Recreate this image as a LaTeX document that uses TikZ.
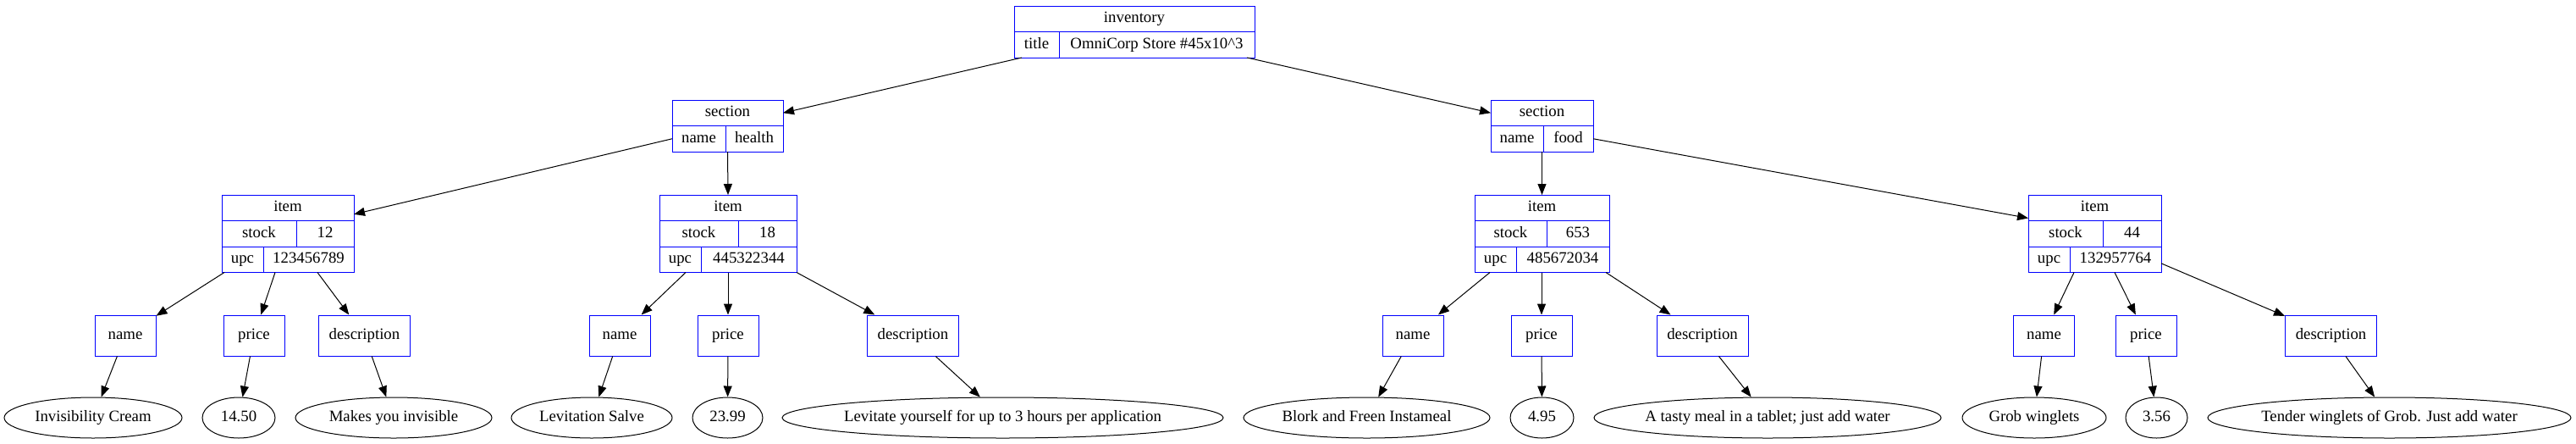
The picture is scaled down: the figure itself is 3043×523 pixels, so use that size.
\documentclass[tikz,border=0pt]{standalone}
\usepackage{fontspec}
\setmainfont{Liberation Serif}
\usetikzlibrary{arrows.meta,positioning,calc,shapes.geometric}
\newcommand{\recfont}{\fontsize{18.8pt}{22pt}\selectfont}

\begin{document}
\begin{tikzpicture}[
  x=1pt,y=-1pt,
  cell/.style={rectangle,draw=blue,line width=1pt,inner sep=0pt,outer sep=0pt,minimum height=30.5pt,text height=13pt,text depth=4pt,font=\recfont},
  fieldbox/.style={rectangle,draw=blue,line width=1pt,inner sep=0pt,minimum width=72pt,minimum height=48pt,text height=13pt,text depth=4pt,font=\recfont},
  leaf/.style={ellipse,draw=black,line width=1pt,inner xsep=-60pt,inner ysep=0pt,minimum height=48pt,text height=13pt,text depth=4pt,font=\recfont},
  link/.style={-{Triangle[length=13pt,width=10pt]},line width=1pt}
]
\useasboundingbox (0,0) rectangle (3043,523);

\node[cell,minimum width=284pt,anchor=north west] (inv) at (1198,7) {inventory};
\node[cell,minimum width=53pt,below right=0pt of inv.south west] (invt) {title};
\node[cell,minimum width=231pt,right=0pt of invt] (invv) {OmniCorp Store \#45x10\textasciicircum 3};

\node[cell,minimum width=131pt,anchor=north west] (sech) at (794,118) {section};
\node[cell,minimum width=63pt,below right=0pt of sech.south west] (shn) {name};
\node[cell,minimum width=68pt,right=0pt of shn] (shv) {health};

\node[cell,minimum width=121pt,anchor=north west] (secf) at (1761,118) {section};
\node[cell,minimum width=62pt,below right=0pt of secf.south west] (sfn) {name};
\node[cell,minimum width=59pt,right=0pt of sfn] (sfv) {food};

\node[cell,minimum width=156pt,anchor=north west] (i1) at (262,230) {item};
\node[cell,minimum width=88pt,below right=0pt of i1.south west] (i1s) {stock};
\node[cell,minimum width=68pt,right=0pt of i1s] (i1k) {12};
\node[cell,minimum width=49pt,below right=0pt of i1s.south west] (i1u) {upc};
\node[cell,minimum width=107pt,right=0pt of i1u] (i1v) {123456789};

\node[cell,minimum width=162pt,anchor=north west] (i2) at (779,230) {item};
\node[cell,minimum width=93pt,below right=0pt of i2.south west] (i2s) {stock};
\node[cell,minimum width=69pt,right=0pt of i2s] (i2k) {18};
\node[cell,minimum width=49pt,below right=0pt of i2s.south west] (i2u) {upc};
\node[cell,minimum width=113pt,right=0pt of i2u] (i2v) {445322344};

\node[cell,minimum width=159pt,anchor=north west] (i3) at (1742,230) {item};
\node[cell,minimum width=85pt,below right=0pt of i3.south west] (i3s) {stock};
\node[cell,minimum width=74pt,right=0pt of i3s] (i3k) {653};
\node[cell,minimum width=49pt,below right=0pt of i3s.south west] (i3u) {upc};
\node[cell,minimum width=110pt,right=0pt of i3u] (i3v) {485672034};

\node[cell,minimum width=157pt,anchor=north west] (i4) at (2396,230) {item};
\node[cell,minimum width=88pt,below right=0pt of i4.south west] (i4s) {stock};
\node[cell,minimum width=69pt,right=0pt of i4s] (i4k) {44};
\node[cell,minimum width=49pt,below right=0pt of i4s.south west] (i4u) {upc};
\node[cell,minimum width=108pt,right=0pt of i4u] (i4v) {132957764};

\node[fieldbox] (n1) at (148,396) {name};
\node[fieldbox] (p1) at (300,396) {price};
\node[fieldbox,minimum width=108pt] (d1) at (430.5,396) {description};
\node[fieldbox] (n2) at (732,396) {name};
\node[fieldbox] (p2) at (860,396) {price};
\node[fieldbox,minimum width=108pt] (d2) at (1078.5,396) {description};
\node[fieldbox] (n3) at (1669,396) {name};
\node[fieldbox] (p3) at (1821,396) {price};
\node[fieldbox,minimum width=108pt] (d3) at (2011,396) {description};
\node[fieldbox] (n4) at (2414.5,396) {name};
\node[fieldbox] (p4) at (2535,396) {price};
\node[fieldbox,minimum width=108pt] (d4) at (2753.5,396) {description};

\node[leaf,minimum width=210pt] (nv1) at (110,493) {Invisibility Cream};
\node[leaf,minimum width=86pt] (pv1) at (282,493) {14.50};
\node[leaf,minimum width=232pt] (dv1) at (465,493) {Makes you invisible};
\node[leaf,minimum width=190pt] (nv2) at (699,493) {Levitation Salve};
\node[leaf,minimum width=83pt] (pv2) at (859.5,493) {23.99};
\node[leaf,minimum width=521pt] (dv2) at (1184.5,493) {Levitate yourself for up to 3 hours per application};
\node[leaf,minimum width=291pt] (nv3) at (1614.5,493) {Blork and Freen Instameal};
\node[leaf,minimum width=75pt] (pv3) at (1821.5,493) {4.95};
\node[leaf,minimum width=410pt] (dv3) at (2088,493) {A tasty meal in a tablet; just add water};
\node[leaf,minimum width=170pt] (nv4) at (2403,493) {Grob winglets};
\node[leaf,minimum width=73pt] (pv4) at (2547.5,493) {3.56};
\node[leaf,minimum width=429pt] (dv4) at (2822.5,493) {Tender winglets of Grob. Just add water};

\draw[link] ($(invt.south west)+(9,0)$) -- (sech.east);
\draw[link] ($(invv.south east)+(-9,0)$) -- (secf.west);
\draw[link] (shn.west) -- ($(i1.east)!0.5!(i1.south east)$);
\draw[link] (sech.south |- shn.south) -- (i2.north);
\draw[link] (secf.south |- sfn.south) -- (i3.north);
\draw[link] (sfv.east) -- ($(i4.west)!0.8!(i4.south west)$);

\draw[link] ($(i1u.south west)+(3,0)$) -- (n1);
\draw[link] ($(i1v.south west)+(14,0)$) -- (p1);
\draw[link] ($(i1v.south west)+(64,0)$) -- (d1);
\draw[link] ($(i2u.south west)+(31,0)$) -- (n2);
\draw[link] ($(i2v.south west)+(32,0)$) -- (p2);
\draw[link] (i2v.south east) -- (d2);
\draw[link] ($(i3u.south west)+(18,0)$) -- (n3);
\draw[link] ($(i3v.south west)+(30,0)$) -- (p3);
\draw[link] ($(i3v.south east)+(-4,0)$) -- (d3);
\draw[link] ($(i4v.south west)+(5,0)$) -- (n4);
\draw[link] ($(i4v.south west)+(53,0)$) -- (p4);
\draw[link] ($(i4v.east)!0.3!(i4v.south east)$) -- (d4);

\draw[link] (n1) -- (nv1);
\draw[link] (p1) -- (pv1);
\draw[link] (d1) -- (dv1);
\draw[link] (n2) -- (nv2);
\draw[link] (p2) -- (pv2);
\draw[link] (d2) -- (dv2);
\draw[link] (n3) -- (nv3);
\draw[link] (p3) -- (pv3);
\draw[link] (d3) -- (dv3);
\draw[link] (n4) -- (nv4);
\draw[link] (p4) -- (pv4);
\draw[link] (d4) -- (dv4);
\end{tikzpicture}
\end{document}
